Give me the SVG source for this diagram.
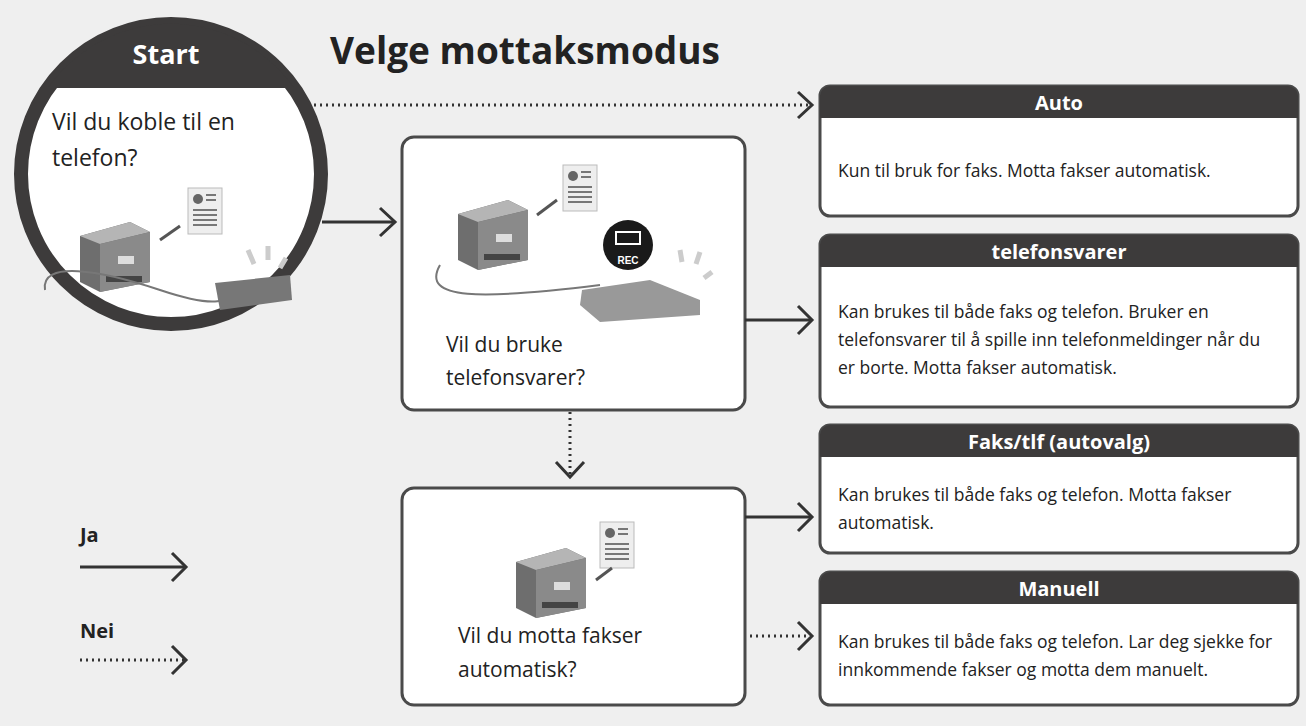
<svg xmlns="http://www.w3.org/2000/svg" width="1306" height="726" viewBox="0 0 1306 726">
<defs>
<style>
.t{font-family:"Open Sans","Liberation Sans",sans-serif;fill:#222}
.b{font-size:17.5px}
.h{font-family:"Open Sans","Liberation Sans",sans-serif;fill:#fff;font-weight:bold;font-size:20px}
.box{fill:#fff;stroke:#4a4a4a;stroke-width:3}
.hd{fill:#3d3b3b}
.sol{stroke:#333;stroke-width:3;fill:none}
.dot{stroke:#333;stroke-width:3;fill:none;stroke-dasharray:2 4}
.chev{stroke:#333;stroke-width:3;fill:none}
.pr1{fill:#8a8a8a}.pr2{fill:#6e6e6e}.pr3{fill:#b5b5b5}
</style>
<g id="printer">
<path d="M0 14 L50 0 L70 10 L70 60 L20 70 L0 60Z" class="pr2"/>
<path d="M0 14 L50 0 L70 10 L20 22Z" class="pr3"/>
<path d="M20 22 L70 10 L70 60 L20 70Z" class="pr1"/>
<rect x="38" y="34" width="16" height="8" fill="#ddd"/>
<rect x="26" y="54" width="36" height="6" fill="#444"/>
</g>
<g id="doc">
<rect x="0" y="0" width="34" height="46" fill="#eee" stroke="#bbb"/>
<circle cx="10" cy="11" r="5" fill="#666"/>
<path d="M18 7h10M18 12h10M5 22h24M5 27h24M5 32h24M5 37h24" stroke="#777" stroke-width="2"/>
</g>
</defs>
<rect width="1306" height="726" fill="#efefef"/>
<text x="330" y="64" class="t" font-size="37" font-weight="bold">Velge mottaksmodus</text>

<g id="start">
<circle cx="171" cy="174" r="150" fill="#fff" stroke="#3d3b3b" stroke-width="14"/>
<path d="M48 88 A150 150 0 0 1 294 88Z" class="hd"/>
<text x="166" y="64" class="h" style="font-size:27px" text-anchor="middle">Start</text>
<text x="52" y="130" class="t" font-size="23">Vil du koble til en</text>
<text x="52" y="166" class="t" font-size="23">telefon?</text>
<use href="#printer" x="80" y="222"/>
<use href="#doc" x="188" y="188"/>
<path d="M160 240 L180 226" stroke="#555" stroke-width="3"/>
<path d="M45 290 C40 260 100 270 160 290 S230 300 230 290" stroke="#777" fill="none" stroke-width="2"/>
<path d="M215 283 L290 275 L292 300 L220 310Z" fill="#777"/>
<path d="M248 250l6 14M268 246l0 14M286 258l-6 10" stroke="#ccc" stroke-width="5"/>
</g>

<g id="q2">
<rect x="402" y="137" width="343" height="273" rx="12" class="box"/>
<use href="#printer" x="458" y="200"/>
<use href="#doc" x="563" y="165"/>
<path d="M537 215 L557 200" stroke="#555" stroke-width="3"/>
<path d="M440 265 C420 300 480 300 600 285" stroke="#777" fill="none" stroke-width="2"/>
<path d="M582 290 L650 280 L700 300 L700 315 L600 322 L580 305Z" fill="#999"/>
<circle cx="628" cy="245" r="25" fill="#1a1a1a"/>
<rect x="616" y="232" width="24" height="12" fill="none" stroke="#fff" stroke-width="2"/>
<text x="628" y="264" font-family="Liberation Sans,sans-serif" font-size="10" font-weight="bold" fill="#fff" text-anchor="middle">REC</text>
<path d="M680 250l2 12M700 252l-4 12M712 272l-8 6" stroke="#ccc" stroke-width="5"/>
<text x="446" y="352" class="t" font-size="21">Vil du bruke</text>
<text x="446" y="385" class="t" font-size="21">telefonsvarer?</text>
</g>

<g id="q3">
<rect x="402" y="488" width="343" height="217" rx="12" class="box"/>
<use href="#printer" x="516" y="548"/>
<use href="#doc" x="600" y="522"/>
<path d="M596 580 L612 568" stroke="#555" stroke-width="3"/>
<text x="458" y="643" class="t" font-size="21">Vil du motta fakser</text>
<text x="458" y="677" class="t" font-size="21">automatisk?</text>
</g>

<g id="auto">
<rect x="820" y="86" width="478" height="130" rx="10" class="box"/>
<path d="M820 118 V96 a10 10 0 0 1 10 -10 H1288 a10 10 0 0 1 10 10 V118Z" class="hd"/>
<text x="1059" y="110" class="h" text-anchor="middle">Auto</text>
<text x="838" y="177" class="t b">Kun til bruk for faks. Motta fakser automatisk.</text>
</g>
<g id="tsv">
<rect x="820" y="235" width="478" height="172" rx="10" class="box"/>
<path d="M820 267 V245 a10 10 0 0 1 10 -10 H1288 a10 10 0 0 1 10 10 V267Z" class="hd"/>
<text x="1059" y="259" class="h" text-anchor="middle">telefonsvarer</text>
<text x="838" y="318" class="t b">Kan brukes til både faks og telefon. Bruker en</text>
<text x="838" y="346" class="t b">telefonsvarer til å spille inn telefonmeldinger når du</text>
<text x="838" y="374" class="t b">er borte. Motta fakser automatisk.</text>
</g>
<g id="fakstlf">
<rect x="820" y="425" width="478" height="128" rx="10" class="box"/>
<path d="M820 457 V435 a10 10 0 0 1 10 -10 H1288 a10 10 0 0 1 10 10 V457Z" class="hd"/>
<text x="1059" y="449" class="h" text-anchor="middle">Faks/tlf (autovalg)</text>
<text x="838" y="501" class="t b">Kan brukes til både faks og telefon. Motta fakser</text>
<text x="838" y="529" class="t b">automatisk.</text>
</g>
<g id="manuell">
<rect x="820" y="572" width="478" height="133" rx="10" class="box"/>
<path d="M820 604 V582 a10 10 0 0 1 10 -10 H1288 a10 10 0 0 1 10 10 V604Z" class="hd"/>
<text x="1059" y="596" class="h" text-anchor="middle">Manuell</text>
<text x="838" y="648" class="t b">Kan brukes til både faks og telefon. Lar deg sjekke for</text>
<text x="838" y="676" class="t b">innkommende fakser og motta dem manuelt.</text>
</g>

<g id="connectors">
<path d="M314 105 H810" class="dot"/><path d="M798 92 L812 105 L798 118" class="chev"/>
<path d="M322 222 H393" class="sol"/><path d="M380 208 L395 222 L380 236" class="chev"/>
<path d="M745 320 H810" class="sol"/><path d="M798 306 L812 320 L798 334" class="chev"/>
<path d="M570 412 V474" class="dot"/><path d="M556 462 L570 477 L584 462" class="chev"/>
<path d="M745 517 H810" class="sol"/><path d="M798 503 L812 517 L798 531" class="chev"/>
<path d="M750 636 H810" class="dot"/><path d="M798 622 L812 636 L798 650" class="chev"/>
</g>

<g id="legend">
<text x="80" y="542" class="t" font-size="20" font-weight="bold">Ja</text>
<path d="M80 567 H184" class="sol"/><path d="M172 553 L186 567 L172 581" class="chev"/>
<text x="80" y="638" class="t" font-size="20" font-weight="bold">Nei</text>
<path d="M80 660 H184" class="dot"/><path d="M172 646 L186 660 L172 674" class="chev"/>
</g>
</svg>
